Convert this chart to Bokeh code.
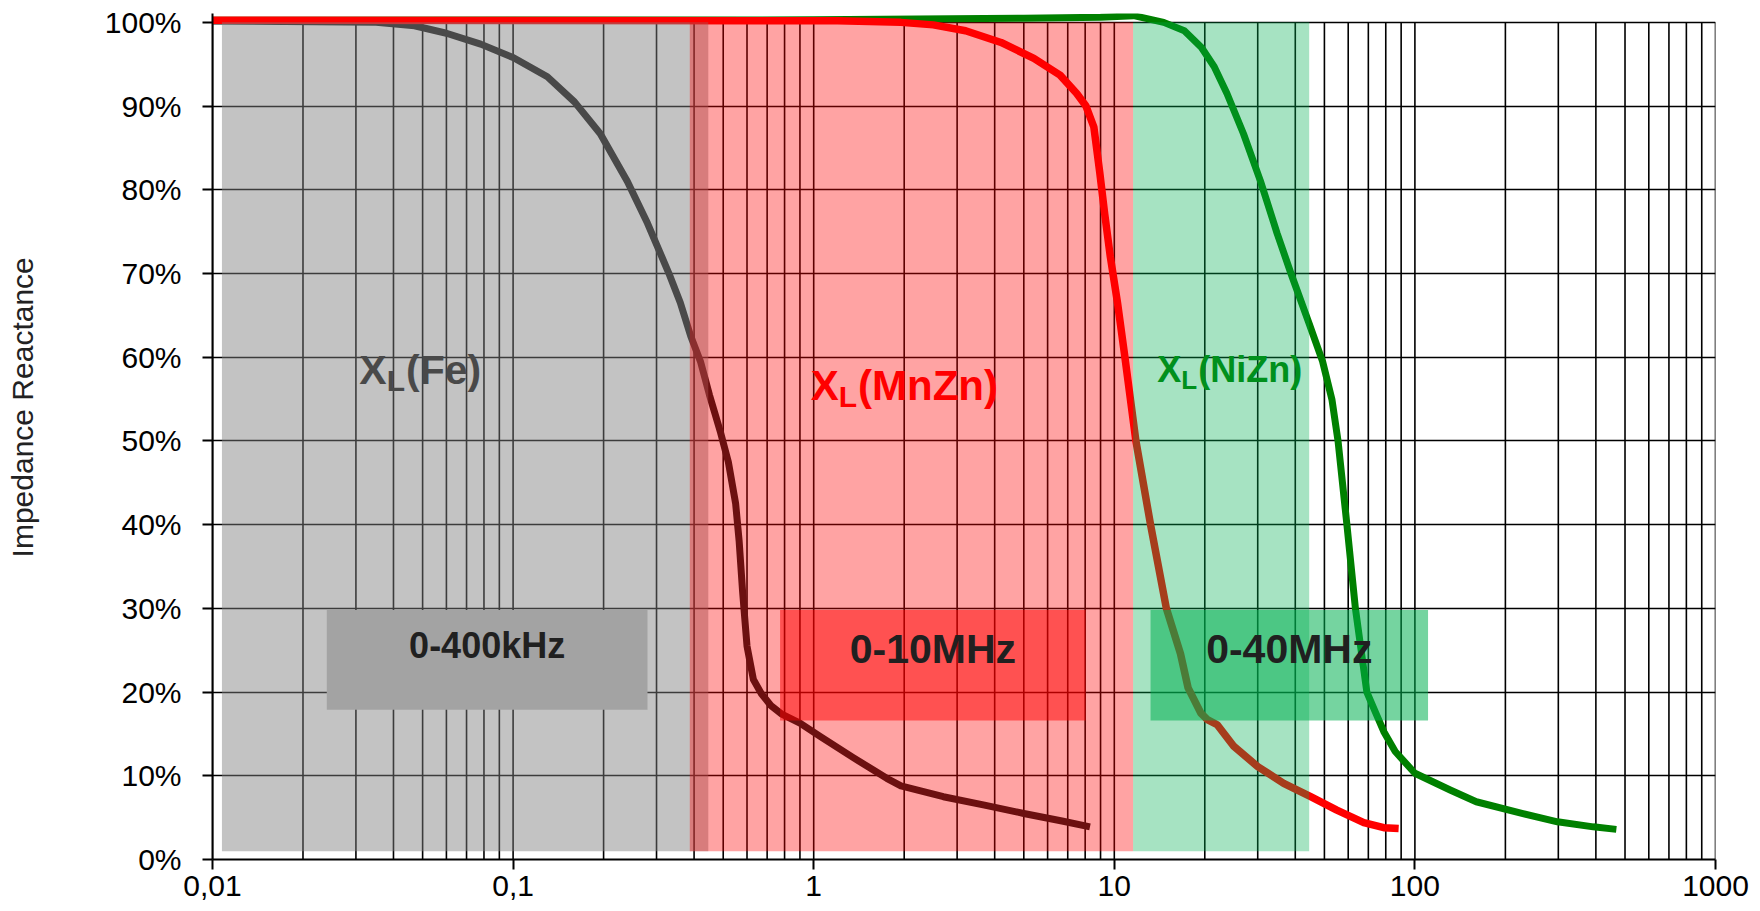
import math
from bokeh.plotting import figure
from bokeh.models import FixedTicker, Range1d, ColumnDataSource
from bokeh.core.properties import value
from bokeh.embed import file_html
from bokeh.resources import INLINE

# ---------------- data (frequency in MHz, impedance reactance in %) ----------------
fe_x = [0.0078, 0.035, 0.047, 0.06, 0.078, 0.1, 0.13, 0.16, 0.195, 0.24, 0.28, 0.33,
        0.36, 0.39, 0.42, 0.45, 0.49, 0.52, 0.55, 0.565, 0.58, 0.6, 0.63, 0.67, 0.72,
        0.78, 0.9, 1.05, 1.35, 1.75, 1.95, 2.7, 3.7, 5.0, 6.7, 8.3]
fe_y = [100.2, 100.0, 99.6, 98.7, 97.4, 95.8, 93.5, 90.5, 86.7, 81.0, 76.0, 70.0,
        66.5, 62.5, 59.5, 55.5, 51.0, 47.5, 42.5, 38.0, 32.0, 25.5, 21.5, 19.8, 18.4,
        17.4, 16.3, 14.7, 12.2, 9.7, 8.8, 7.5, 6.5, 5.5, 4.6, 3.9]

mnzn_x = [0.0078, 1.2, 1.95, 2.5, 3.2, 4.2, 5.4, 6.6, 7.5, 8.05, 8.55, 8.95, 9.3,
          9.7, 10.25, 10.8, 11.8, 13.2, 14.9, 16.6, 17.6, 19.4, 20.4, 22.0, 25.0,
          30.0, 36.6, 45.0, 55.0, 67.6, 78.8, 88.3]
mnzn_y = [100.25, 100.2, 100.0, 99.7, 99.0, 97.6, 95.7, 93.7, 91.5, 90.0, 87.5, 82.0,
          77.0, 72.0, 66.5, 60.5, 50.0, 40.0, 30.0, 24.6, 20.5, 17.5, 16.7, 16.1, 13.5,
          11.1, 9.1, 7.5, 5.9, 4.4, 3.8, 3.7]

nizn_x = [0.0078, 1.0, 5.0, 9.0, 11.6, 14.6, 17.1, 19.5, 21.5, 23.7, 26.9, 30.6,
          34.8, 38.7, 44.5, 49.3, 53.0, 55.5, 59.4, 63.4, 69.2, 74.5, 79.0, 86.0,
          100.0, 131.0, 160.0, 227.0, 298.0, 392.0, 468.0]
nizn_y = [100.25, 100.3, 100.5, 100.6, 100.8, 100.0, 99.0, 97.0, 94.7, 91.5, 86.7, 81.1,
          74.8, 70.0, 64.0, 59.5, 54.9, 50.0, 40.0, 30.0, 20.0, 17.3, 15.2, 12.9,
          10.3, 8.3, 6.9, 5.5, 4.5, 3.9, 3.6]

# shaded frequency bands (Fe, MnZn, NiZn)
band_left = [0.01075, 0.387, 11.55]
band_right = [0.446, 11.55, 44.5]
band_bottom = [1.0, 1.0, 1.0]
band_top = [100.0, 100.0, 100.0]

# range boxes
box_left = [0.024, 0.773, 13.2]
box_right = [0.28, 8.03, 110.6]
box_bottom = [17.9, 16.6, 16.6]
box_top = [29.8, 29.8, 29.8]
box_text = ["0-400kHz", "0-10MHz", "0-40MHz"]
box_text_y = [25.6, 25.1, 25.2]

# series labels
series_names = ["Fe", "MnZn", "NiZn"]
series_label_x = [0.0308, 0.977, 13.9]
series_label_y = [58.5, 56.6, 58.5]

x_ticks = [0.01, 0.1, 1.0, 10.0, 100.0, 1000.0]
x_tick_labels = ["0,01", "0,1", "1", "10", "100", "1000"]
y_ticks = [0, 10, 20, 30, 40, 50, 60, 70, 80, 90, 100]
y_tick_labels = ["0%", "10%", "20%", "30%", "40%", "50%", "60%", "70%", "80%", "90%", "100%"]
y_title = "Impedance Reactance"

# ---------------- styles ----------------
FONT = "Liberation Sans"
series_colors = ["#1a1a1a", "#ff0000", "#008000"]
series_font_px = [41, 42, 36]
band_colors = ["#808080", "#ff0000", "#00b050"]
band_alphas = [0.47, 0.36, 0.35]
box_colors = ["#a3a3a3", "#ff0000", "#00b050"]
box_alphas = [1.0, 0.5, 0.54]
box_font_px = ["36px", "41px", "41px"]

p = figure(width=1760, height=911, x_axis_type="log",
           x_range=Range1d(0.01, 1000), y_range=Range1d(0, 101.06),
           output_backend="svg", toolbar_location=None,
           min_border_left=212, min_border_right=45, min_border_top=13, min_border_bottom=52)
p.outline_line_color = None
p.background_fill_color = "white"
p.border_fill_color = "white"

# grid
p.xgrid.visible = False
p.ygrid.ticker = FixedTicker(ticks=y_ticks)
p.ygrid.grid_line_color = "black"
p.ygrid.grid_line_width = 1.6

grid_x = [m * 10.0 ** d for d in range(-2, 3) for m in range(1, 10)] + [1000.0]
p.segment(x0=grid_x, y0=[0] * len(grid_x), x1=grid_x, y1=[100] * len(grid_x),
          line_color="black", line_width=1.6)

# series labels (drawn under the tinted bands)
for name, col, fs, lx, ly in zip(series_names, series_colors, series_font_px,
                                 series_label_x, series_label_y):
    sub = round(fs * 0.72)
    off_l = 0.667 * fs
    off_p = off_l + 0.611 * sub + 1
    p.text(x=[lx], y=[ly], text=["X"], text_color=col, text_font=value(FONT),
           text_font_style="bold", text_font_size=value(f"{fs}px"),
           text_align="left", text_baseline="alphabetic")
    p.text(x=[lx], y=[ly], text=["L"], text_color=col, text_font=value(FONT),
           text_font_style="bold", text_font_size=value(f"{sub}px"),
           text_align="left", text_baseline="alphabetic", x_offset=off_l,
           y_offset=round(fs * 0.27))
    p.text(x=[lx], y=[ly], text=[f"({name})"], text_color=col, text_font=value(FONT),
           text_font_style="bold", text_font_size=value(f"{fs}px"),
           text_align="left", text_baseline="alphabetic", x_offset=off_p)

# curves
p.line(fe_x, fe_y, line_color=series_colors[0], line_width=7, line_join="round")
p.line(nizn_x, nizn_y, line_color=series_colors[2], line_width=7, line_join="round")
p.line(mnzn_x, mnzn_y, line_color=series_colors[1], line_width=7.5, line_join="round")

# shaded bands
p.quad(left=band_left, right=band_right, bottom=band_bottom, top=band_top,
       fill_color=band_colors, fill_alpha=band_alphas, line_color=None)

# range boxes
p.quad(left=box_left, right=box_right, bottom=box_bottom, top=box_top,
       fill_color=box_colors, fill_alpha=box_alphas, line_color=None)

box_cx = [math.sqrt(l * r) for l, r in zip(box_left, box_right)]
src = ColumnDataSource(dict(x=box_cx, y=box_text_y, t=box_text, fs=box_font_px))
p.text(x="x", y="y", text="t", source=src, text_color="#202020", text_font=value(FONT),
       text_font_style="bold", text_font_size="fs", text_align="center",
       text_baseline="alphabetic")

# axes
for ax in (p.xaxis[0], p.yaxis[0]):
    ax.axis_line_color = "black"
    ax.axis_line_width = 2
    ax.major_tick_line_color = "black"
    ax.major_tick_line_width = 2
    ax.major_tick_out = 10
    ax.major_tick_in = 0
    ax.minor_tick_line_color = None
    ax.major_label_text_font = FONT
    ax.major_label_text_font_size = "30px"
    ax.major_label_text_color = "black"

p.xaxis.ticker = FixedTicker(ticks=x_ticks, minor_ticks=[])
p.xaxis.major_label_overrides = dict(zip(x_ticks, x_tick_labels))
p.xaxis.major_label_standoff = 6
p.yaxis.ticker = FixedTicker(ticks=y_ticks, minor_ticks=[])
p.yaxis.major_label_overrides = dict(zip(y_ticks, y_tick_labels))
p.yaxis.major_label_standoff = 21

# y title: the reference sits a little above the plot centre -> leading no-break spaces
p.yaxis.axis_label = "\u00a0" * 7 + y_title
p.yaxis.axis_label_standoff = 63
p.yaxis.axis_label_text_font = FONT
p.yaxis.axis_label_text_font_size = "30px"
p.yaxis.axis_label_text_font_style = "normal"
p.yaxis.axis_label_text_color = "#222222"

open("out.html", "w").write(file_html(p, INLINE))
